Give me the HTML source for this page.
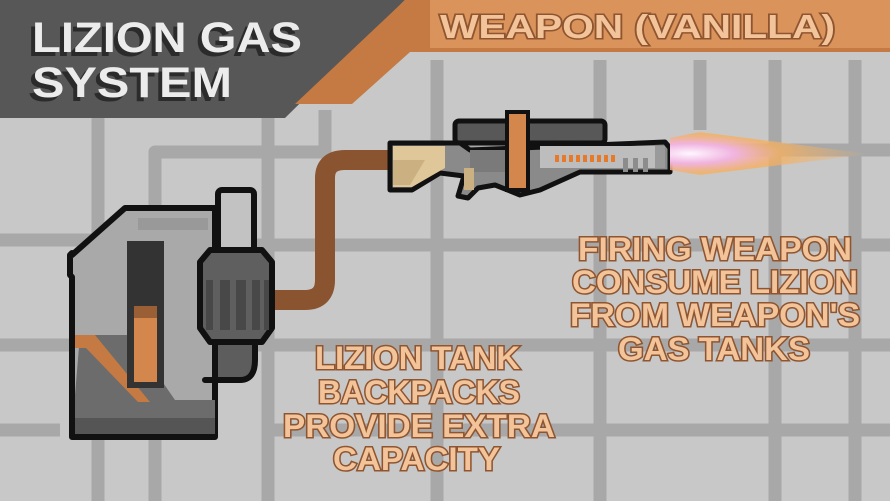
<!DOCTYPE html>
<html><head><meta charset="utf-8"><style>
html,body{margin:0;padding:0;background:#c8c8c8;}
svg{display:block;}
.t{font-family:"Liberation Sans",sans-serif;font-weight:bold;fill:#f3c49a;stroke:#8e5530;stroke-width:3;paint-order:stroke;}
</style></head><body>
<svg width="890" height="501" viewBox="0 0 890 501" xmlns="http://www.w3.org/2000/svg">
<rect width="890" height="501" fill="#c8c8c8"/>
<!-- pipes -->
<g stroke="#a8a8a8" stroke-width="13" fill="none" stroke-linejoin="round">
<path d="M98 118 V501"/>
<path d="M268 118 V501"/>
<path d="M155 501 V152 H325 V110"/>
<path d="M0 240 H120"/>
<path d="M437 60 V501"/>
<path d="M600 60 V501"/>
<path d="M775 60 V501"/>
<path d="M855 60 V501"/>
<path d="M430 150 H890"/>
<path d="M0 345 H890"/>
<path d="M270 430 H890"/>
<path d="M240 245 H890"/>
<path d="M0 430 H60"/>
<path d="M700 60 V130"/>
</g>
<!-- banner -->
<polygon points="0,0 405,0 285,118 0,118" fill="#575757"/>
<polygon points="405,0 890,0 890,52 410,52 352,104 295,104" fill="#c47a42"/>
<rect x="430" y="0" width="460" height="48" fill="#d9935b"/>
<text x="28" y="56" font-family="Liberation Sans" font-weight="bold" font-size="43" fill="#2b2b2b" textLength="270" lengthAdjust="spacingAndGlyphs">LIZION GAS</text>
<text x="32" y="52" font-family="Liberation Sans" font-weight="bold" font-size="43" fill="#ececec" textLength="270" lengthAdjust="spacingAndGlyphs">LIZION GAS</text>
<text x="28" y="101" font-family="Liberation Sans" font-weight="bold" font-size="43" fill="#2b2b2b" textLength="200" lengthAdjust="spacingAndGlyphs">SYSTEM</text>
<text x="32" y="97" font-family="Liberation Sans" font-weight="bold" font-size="43" fill="#ececec" textLength="200" lengthAdjust="spacingAndGlyphs">SYSTEM</text>
<text class="t" x="440" y="38" font-size="33" textLength="395" lengthAdjust="spacingAndGlyphs">WEAPON (VANILLA)</text>
<!-- hose -->
<path d="M270 300 H305 Q325 300 325 280 V178 Q325 160 345 160 H395" stroke="#8b5430" stroke-width="20" fill="none"/>
<!-- gun -->
<g stroke="#111" stroke-width="5" stroke-linejoin="round">
<rect x="455" y="121" width="150" height="22" rx="4" fill="#585858"/>
<polygon points="390,143 460,143 470,150 665,142 670,148 670,172 580,172 540,190 520,195 495,185 478,188 468,198 458,196 464,176 440,173 412,190 390,190" fill="#8a8a8a"/>
</g>
<polygon points="393,146 445,146 445,168 412,187 393,187" fill="#e0c79a"/>
<polygon points="393,160 425,160 410,185 393,185" fill="#cbb182"/>
<rect x="470" y="150" width="50" height="22" fill="#7a7a7a"/>
<rect x="540" y="146" width="125" height="22" fill="#bdbdbd"/>
<rect x="655" y="146" width="10" height="22" fill="#9a9a9a"/>
<g fill="#e67a2a"><rect x="555" y="155" width="4" height="7"/><rect x="562" y="155" width="4" height="7"/><rect x="569" y="155" width="4" height="7"/><rect x="576" y="155" width="4" height="7"/><rect x="583" y="155" width="4" height="7"/><rect x="590" y="155" width="4" height="7"/><rect x="597" y="155" width="4" height="7"/><rect x="604" y="155" width="4" height="7"/><rect x="611" y="155" width="4" height="7"/></g>
<g fill="#8c8c8c"><rect x="623" y="158" width="5" height="14"/><rect x="633" y="158" width="5" height="14"/><rect x="643" y="158" width="5" height="14"/></g>
<rect x="464" y="168" width="10" height="22" fill="#cbb182"/>
<rect x="507" y="112" width="21" height="78" fill="#d4874d" stroke="#111" stroke-width="4"/>
<!-- flame -->
<defs><radialGradient id="f" cx="0.1" cy="0.5" r="0.9"><stop offset="0" stop-color="#fff6ff"/><stop offset="0.25" stop-color="#f0b4e0"/><stop offset="0.5" stop-color="#f5b060" stop-opacity="0.8"/><stop offset="1" stop-color="#f5b060" stop-opacity="0"/></radialGradient></defs>
<polygon points="670,138 700,132 870,154 700,175 670,170" fill="url(#f)"/>
<!-- backpack -->
<g stroke="#111" stroke-width="6" stroke-linejoin="round">
<rect x="218" y="190" width="36" height="70" rx="4" fill="#c2c2c2"/>
<polygon points="125,208 215,208 215,437 72,437 72,277 70,275 70,255 72,253 72,255" fill="#a9a9a9"/>
<path d="M205 380 H240 Q255 380 255 360 V325 H215 V380 Z" fill="#5d5d5d"/>
<polygon points="200,262 210,250 262,250 272,262 272,328 262,342 210,342 200,328" fill="#5f5f5f"/>
</g>
<polygon points="75,395 80,335 130,335 175,400 215,400 215,432 75,432" fill="#6c6c6c"/>
<polygon points="75,335 95,335 150,402 138,402 86,348 75,348" fill="#c47a42"/>
<rect x="75" y="418" width="140" height="16" fill="#555"/>
<rect x="127" y="241" width="37" height="147" fill="#333"/>
<rect x="134" y="306" width="23" height="76" fill="#d4874d"/>
<rect x="134" y="306" width="23" height="12" fill="#9a5f35"/>
<rect x="138" y="218" width="70" height="12" fill="#999"/>
<g fill="#484848"><rect x="206" y="280" width="7" height="50"/><rect x="220" y="280" width="10" height="50"/><rect x="236" y="280" width="10" height="50"/><rect x="252" y="280" width="8" height="50"/><rect x="264" y="280" width="5" height="50"/></g>
<!-- captions -->
<text class="t" x="578" y="260" font-size="32" textLength="274" lengthAdjust="spacingAndGlyphs">FIRING WEAPON</text>
<text class="t" x="572" y="293" font-size="32" textLength="286" lengthAdjust="spacingAndGlyphs">CONSUME LIZION</text>
<text class="t" x="570" y="326" font-size="32" textLength="290" lengthAdjust="spacingAndGlyphs">FROM WEAPON'S</text>
<text class="t" x="618" y="360" font-size="32" textLength="192" lengthAdjust="spacingAndGlyphs">GAS TANKS</text>
<text class="t" x="315" y="369" font-size="32" textLength="205" lengthAdjust="spacingAndGlyphs">LIZION TANK</text>
<text class="t" x="318" y="403" font-size="32" textLength="202" lengthAdjust="spacingAndGlyphs">BACKPACKS</text>
<text class="t" x="283" y="437" font-size="32" textLength="272" lengthAdjust="spacingAndGlyphs">PROVIDE EXTRA</text>
<text class="t" x="333" y="470" font-size="32" textLength="167" lengthAdjust="spacingAndGlyphs">CAPACITY</text>
</svg>
</body></html>
